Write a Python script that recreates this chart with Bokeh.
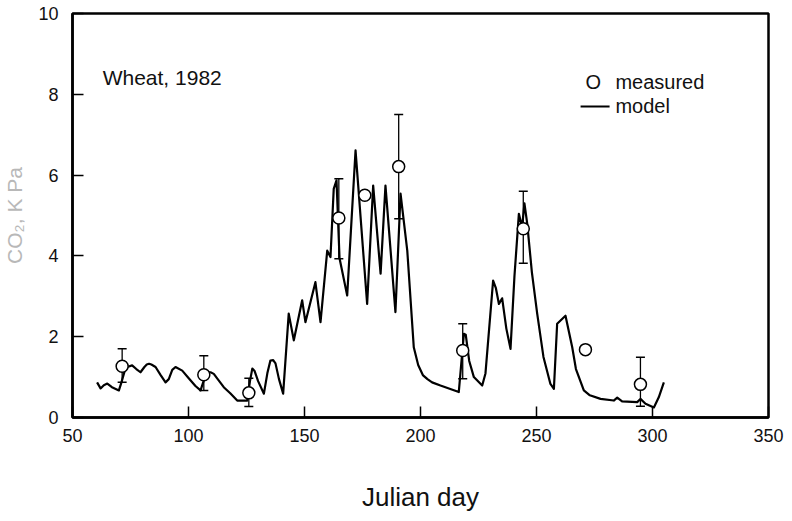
import numpy as np
from bokeh.plotting import figure
from bokeh.models import Range1d, FixedTicker, Label
from bokeh.embed import file_html
from bokeh.resources import INLINE

# ---- data ----
model_day = [60.6, 62.1, 63.5, 65.0, 67.0, 70.0, 71.0, 72.5, 73.6, 75.7, 77.5, 79.3,
             81.0, 82.0, 83.0, 84.0, 85.8, 88.0, 90.1, 91.5, 93.0, 94.4, 97.3, 100.0,
             103.0, 105.2, 106.5, 108.1, 109.5, 110.9, 113.0, 115.2, 118.0, 121.0,
             125.3, 126.5, 127.5, 128.5, 130.0, 132.5, 134.0, 135.3, 136.5, 137.5,
             139.0, 140.8, 143.2, 145.4, 149.0, 150.4, 154.7, 156.9, 159.8, 161.2,
             162.6, 163.8, 165.1, 168.4, 172.0, 177.0, 179.6, 182.8, 184.9, 189.2,
             191.4, 194.3, 197.1, 199.0, 201.0, 203.0, 205.0, 208.6, 216.5, 218.7,
             219.5, 221.0, 223.0, 226.6, 228.0, 231.3, 232.5, 233.8, 235.2, 237.0,
             238.8, 240.5, 242.4, 243.8, 244.8, 246.0, 248.0, 250.3, 253.0, 256.0,
             257.5, 258.9, 262.5, 265.4, 267.0, 270.4, 273.0, 277.6, 283.3, 284.8,
             286.9, 293.4, 294.8, 297.0, 300.6, 302.7, 304.9]
model_co2 = [0.87, 0.72, 0.80, 0.84, 0.75, 0.67, 0.85, 1.15, 1.25, 1.29, 1.20, 1.12,
             1.25, 1.31, 1.33, 1.31, 1.25, 1.05, 0.87, 0.95, 1.18, 1.25, 1.16, 0.98,
             0.78, 0.67, 0.90, 1.12, 1.12, 1.08, 0.92, 0.75, 0.60, 0.42,
             0.42, 0.90, 1.21, 1.15, 0.90, 0.59, 1.10, 1.41, 1.42, 1.34,
             0.95, 0.59, 2.57, 1.91, 2.90, 2.36, 3.35, 2.36, 4.13, 3.97,
             5.66, 5.87, 3.94, 3.02, 6.61, 2.81, 5.74, 3.56, 5.74, 2.61,
             5.54, 4.13, 1.74, 1.30, 1.05, 0.95, 0.87, 0.79, 0.63, 2.07,
             2.05, 1.40, 1.00, 0.79, 1.09, 3.39, 3.20, 2.81, 2.95, 2.20,
             1.70, 3.50, 5.04, 4.71, 5.30, 4.80, 3.60, 2.57, 1.50, 0.83,
             0.71, 2.32, 2.52, 1.74, 1.20, 0.67, 0.55, 0.46, 0.42, 0.49,
             0.40, 0.38, 0.46, 0.34, 0.25, 0.50, 0.87]

meas_day = [71.4, 106.6, 126.0, 164.8, 176.0, 190.6, 218.2, 244.3, 271.1, 294.8]
meas_co2 = [1.27, 1.06, 0.61, 4.94, 5.50, 6.21, 1.66, 4.67, 1.68, 0.82]

bar_day = [71.4, 106.6, 126.0, 164.8, 190.6, 218.2, 244.3, 294.8]
bar_lo = [0.87, 0.67, 0.27, 3.93, 4.92, 0.96, 3.82, 0.28]
bar_hi = [1.70, 1.53, 0.97, 5.91, 7.50, 2.32, 5.60, 1.49]

x_ticks = [50, 100, 150, 200, 250, 300, 350]
y_ticks = [0, 2, 4, 6, 8, 10]

FONT = "Liberation Sans"

p = figure(width=792, height=521, output_backend="svg", toolbar_location=None,
           x_range=Range1d(50, 350), y_range=Range1d(0, 10),
           min_border_left=72, min_border_right=24, min_border_top=13,
           min_border_bottom=104)
p.grid.visible = False
p.background_fill_color = "white"
p.border_fill_color = "white"
p.outline_line_color = "black"
p.outline_line_width = 2.5

for ax in (p.xaxis[0], p.yaxis[0]):
    ax.axis_line_width = 2.5
    ax.axis_line_color = "black"
    ax.major_tick_in = 11
    ax.major_tick_out = 0
    ax.major_tick_line_width = 1.5
    ax.minor_tick_line_color = None
    ax.major_label_text_font = FONT
    ax.major_label_text_font_size = "18px"
    ax.major_label_text_color = "#111111"

p.xaxis.ticker = FixedTicker(ticks=x_ticks)
p.yaxis.ticker = FixedTicker(ticks=y_ticks)
p.xaxis.major_label_standoff = 11
p.yaxis.major_label_standoff = 14

p.xaxis.axis_label = "Julian day"
p.xaxis.axis_label_text_font = FONT
p.xaxis.axis_label_text_font_size = "26px"
p.xaxis.axis_label_text_font_style = "normal"
p.xaxis.axis_label_text_color = "#111111"
p.xaxis.axis_label_standoff = 37

p.yaxis.axis_label = "CO₂, K Pa"
p.yaxis.axis_label_text_font = FONT
p.yaxis.axis_label_text_font_size = "21px"
p.yaxis.axis_label_text_font_style = "normal"
p.yaxis.axis_label_text_color = "#b8b8b8"
p.yaxis.axis_label_standoff = 9

# model line
p.line(model_day, model_co2, line_color="black", line_width=2.2, line_join="round")

# error bars
p.segment(x0=bar_day, y0=bar_lo, x1=bar_day, y1=bar_hi, line_color="black", line_width=1.3)
p.scatter(bar_day, bar_hi, marker="dash", size=9, line_color="black", line_width=1.5)
p.scatter(bar_day, bar_lo, marker="dash", size=9, line_color="black", line_width=1.5)

# measured points
p.scatter(meas_day, meas_co2, marker="circle", size=12, fill_color="white",
          line_color="black", line_width=1.5)

# annotations
p.add_layout(Label(x=63.0, y=8.42, text="Wheat, 1982", text_font=FONT,
                   text_font_size="21px", text_baseline="middle", text_color="#111111"))
p.add_layout(Label(x=274.5, y=8.3, text="O", text_font=FONT, text_font_size="20px",
                   text_align="center", text_baseline="middle", text_color="#111111"))
p.add_layout(Label(x=284.0, y=8.3, text="measured", text_font=FONT,
                   text_font_size="20px", text_baseline="middle", text_color="#111111"))
p.add_layout(Label(x=284.0, y=7.7, text="model", text_font=FONT,
                   text_font_size="20px", text_baseline="middle", text_color="#111111"))
p.line(x=[269.0, 281.5], y=[7.7, 7.7], line_color="black", line_width=2)

open("out.html", "w").write(file_html(p, INLINE))
